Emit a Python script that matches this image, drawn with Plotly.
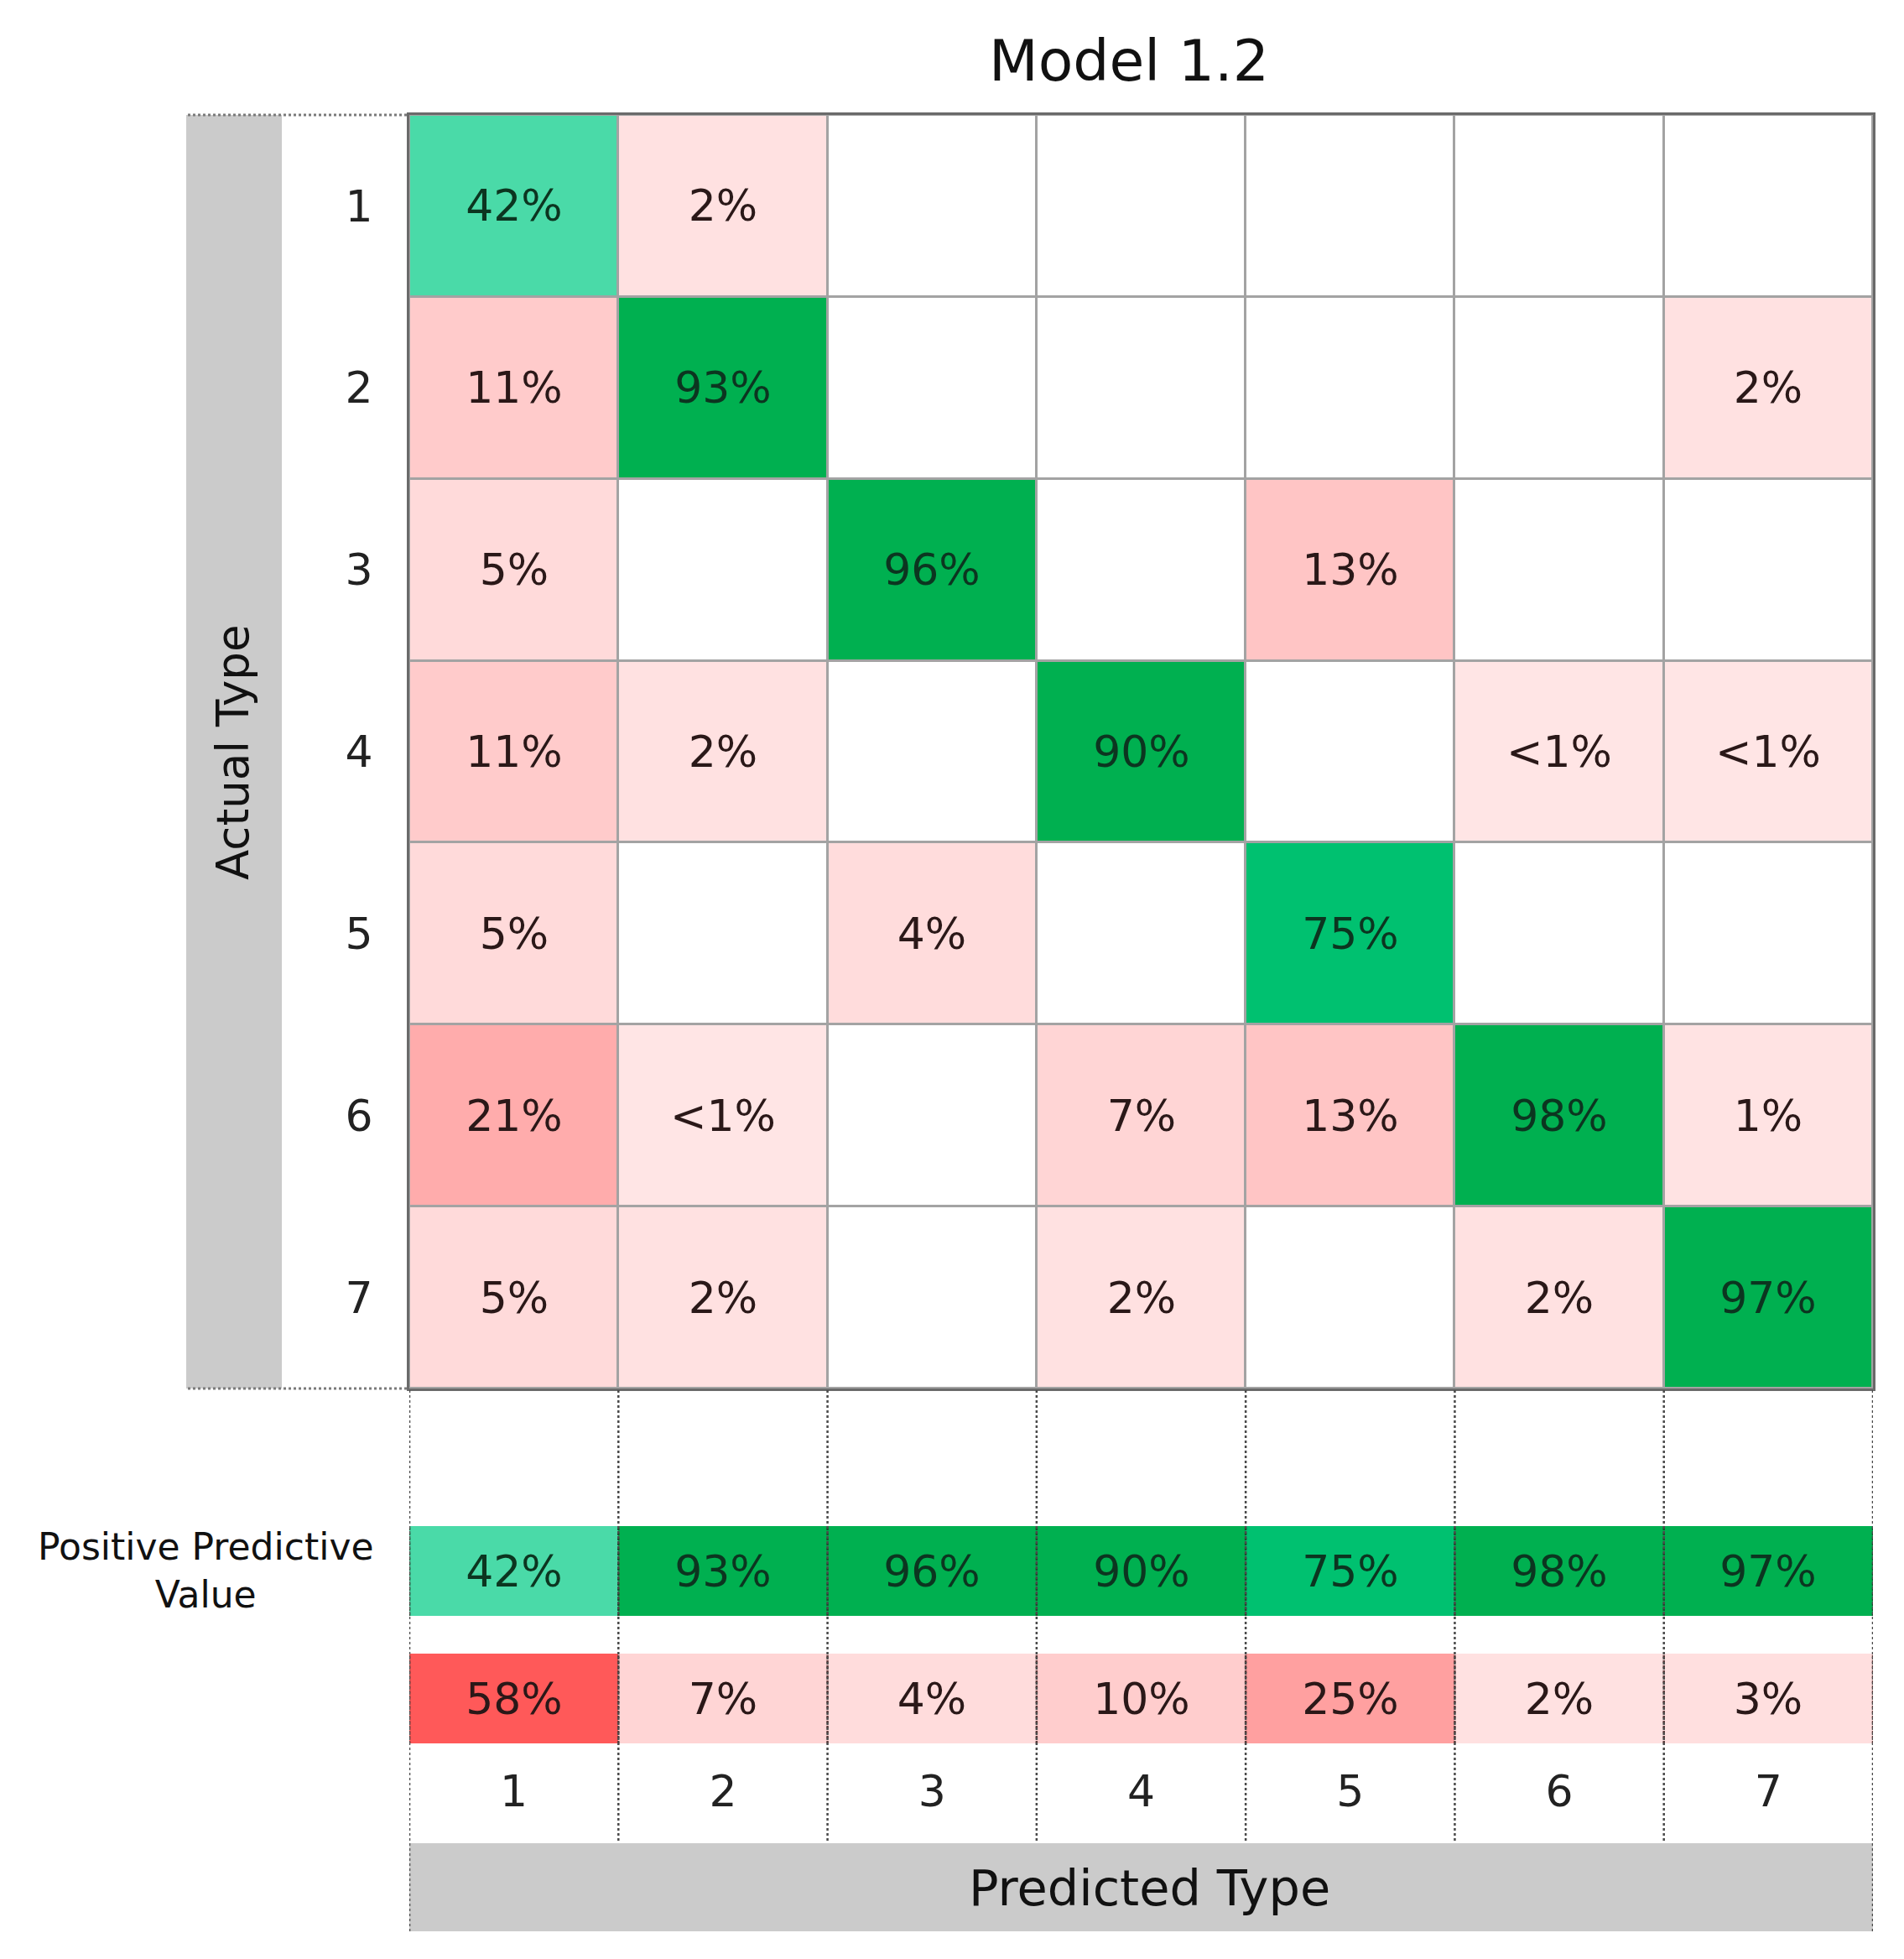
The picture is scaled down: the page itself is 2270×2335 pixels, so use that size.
import plotly.graph_objects as go

# ---------------- data ----------------
categories = ["1", "2", "3", "4", "5", "6", "7"]
title_text = "Model 1.2"
x_title = "Predicted Type"
y_title = "Actual Type"
ppv_label = "Positive Predictive<br>Value"

# rows = actual type 1..7, columns = predicted type 1..7 (percent, 0.5 means "<1%")
row1 = [42, 2, None, None, None, None, None]
row2 = [11, 93, None, None, None, None, 2]
row3 = [5, None, 96, None, 13, None, None]
row4 = [11, 2, None, 90, None, 0.5, 0.5]
row5 = [5, None, 4, None, 75, None, None]
row6 = [21, 0.5, None, 7, 13, 98, 1]
row7 = [5, 2, None, 2, None, 2, 97]
matrix = [row1, row2, row3, row4, row5, row6, row7]

ppv = [42, 93, 96, 90, 75, 98, 97]
fdr = [58, 7, 4, 10, 25, 2, 3]

# ---------------- helpers ----------------
W, H = 2270, 2335
OFF = 8  # page margin of the html body
def px(x):
    return (x - OFF) / W
def py(y):
    return 1 - (y - OFF) / H

def fmt(v):
    if v is None:
        return ""
    if v < 1:
        return "&lt;1%"
    return f"{v:g}%"

FONT = "DejaVu Sans"
GREEN = [[0, "#4edcab"], [0.58, "#00c170"], [0.8, "#00b050"], [1, "#00b050"]]
RED = [[0, "#ffe6e6"], [0.2, "#ffc8c8"], [0.4, "#ffa2a2"], [1, "#ff5555"]]
TXT_G = "#0c3520"
TXT_R = "#2a1818"

n = len(categories)
xs = list(range(1, n + 1))
ys = list(range(1, n + 1))

diag_z = [[matrix[i][j] if i == j else None for j in range(n)] for i in range(n)]
off_z = [[matrix[i][j] if i != j else None for j in range(n)] for i in range(n)]
diag_t = [[fmt(v) for v in r] for r in diag_z]
off_t = [[fmt(v) for v in r] for r in off_z]

fig = go.Figure()

# white base cells
fig.add_trace(go.Heatmap(
    x=xs, y=ys, z=[[0] * n for _ in range(n)],
    colorscale=[[0, "white"], [1, "white"]], showscale=False,
    xgap=3, ygap=3, hoverinfo="skip", xaxis="x", yaxis="y"))

# diagonal (correct) cells
fig.add_trace(go.Heatmap(
    x=xs, y=ys, z=diag_z, text=diag_t, texttemplate="%{text}",
    textfont=dict(family=FONT, size=52, color=TXT_G),
    colorscale=GREEN, zmin=40, zmax=100, showscale=False,
    xgap=3, ygap=3, hoverinfo="skip", xaxis="x", yaxis="y"))

# off-diagonal (error) cells
fig.add_trace(go.Heatmap(
    x=xs, y=ys, z=off_z, text=off_t, texttemplate="%{text}",
    textfont=dict(family=FONT, size=52, color=TXT_R),
    colorscale=RED, zmin=0, zmax=60, showscale=False,
    xgap=3, ygap=3, hoverinfo="skip", xaxis="x", yaxis="y"))

# positive predictive value row
fig.add_trace(go.Heatmap(
    x=xs, y=[1], z=[ppv], text=[[fmt(v) for v in ppv]], texttemplate="%{text}",
    textfont=dict(family=FONT, size=52, color=TXT_G),
    colorscale=GREEN, zmin=40, zmax=100, showscale=False,
    hoverinfo="skip", xaxis="x2", yaxis="y2"))

# false discovery row
fig.add_trace(go.Heatmap(
    x=xs, y=[1], z=[fdr], text=[[fmt(v) for v in fdr]], texttemplate="%{text}",
    textfont=dict(family=FONT, size=52, color=TXT_R),
    colorscale=RED, zmin=0, zmax=60, showscale=False,
    hoverinfo="skip", xaxis="x3", yaxis="y3"))

# dotted column separators drawn on top of the two summary rows
sep_x, sep_y = [], []
for k in range(n + 1):
    sep_x += [k + 0.5, k + 0.5, None]
    sep_y += [0.5, 1.5, None]
for xa, ya, col in (("x2", "y2", "#1f4a2e"), ("x3", "y3", "#5a3a3a")):
    fig.add_trace(go.Scatter(
        x=sep_x, y=sep_y, mode="lines", xaxis=xa, yaxis=ya,
        line=dict(color=col, width=2.5, dash="dot"),
        hoverinfo="skip", showlegend=False, cliponaxis=False))

X0, X1 = 488, 2233
MT, MB = 137, 1655

common_off = dict(showgrid=False, zeroline=False, ticks="", fixedrange=True)

fig.update_layout(
    width=W, height=H,
    margin=dict(l=0, r=0, t=0, b=0),
    paper_bgcolor="white",
    plot_bgcolor="#a3a3a3",
    showlegend=False,
    font=dict(family=FONT, color="#111111"),
    xaxis=dict(domain=[px(X0), px(X1)], range=[0.5, n + 0.5], anchor="y",
               showticklabels=False, showline=True, mirror=True,
               linecolor="#6a6a6a", linewidth=3, **common_off),
    yaxis=dict(domain=[py(MB), py(MT)], range=[n + 0.5, 0.5], anchor="x",
               tickvals=ys, ticktext=categories, ticklabelstandoff=30,
               tickfont=dict(family=FONT, size=52, color="#222222"),
               showline=True, mirror=True, linecolor="#6a6a6a", linewidth=3,
               **common_off),
    xaxis2=dict(domain=[px(X0), px(X1)], range=[0.5, n + 0.5], anchor="y2",
                showticklabels=False, **common_off),
    yaxis2=dict(domain=[py(1926), py(1819)], range=[0.5, 1.5], anchor="x2",
                showticklabels=False, **common_off),
    xaxis3=dict(domain=[px(X0), px(X1)], range=[0.5, n + 0.5], anchor="y3",
                tickvals=xs, ticktext=categories, ticklabelstandoff=22,
                tickfont=dict(family=FONT, size=52, color="#222222"),
                **common_off),
    yaxis3=dict(domain=[py(2078), py(1971)], range=[0.5, 1.5], anchor="x3",
                showticklabels=False, **common_off),
)

shapes = []
# grey band behind the actual-type title
shapes.append(dict(type="rect", xref="paper", yref="paper",
                   x0=px(222), x1=px(336), y0=py(MB), y1=py(MT),
                   fillcolor="#cbcbcb", line=dict(width=0), layer="below"))
# grey band behind the predicted-type title
shapes.append(dict(type="rect", xref="paper", yref="paper",
                   x0=px(X0), x1=px(X1), y0=py(2302), y1=py(2197),
                   fillcolor="#cbcbcb", line=dict(width=0), layer="below"))
# dotted guide lines at top and bottom of the matrix, left side
for yy in (MT, MB):
    shapes.append(dict(type="line", xref="paper", yref="paper",
                       x0=px(224), x1=px(X0), y0=py(yy), y1=py(yy),
                       line=dict(color="#7a7a7a", width=3, dash="dot")))
# dotted column separators below the matrix (outer ones run through the grey band)
dot = dict(color="#4a4a4a", width=2.5, dash="dot")
for k in range(n + 1):
    end = 2304 if k in (0, n) else 2197
    shapes.append(dict(type="line", xref="x", yref="paper",
                       x0=k + 0.5, x1=k + 0.5, y0=py(MB + 2), y1=py(end),
                       line=dot, layer="above"))
fig.update_layout(shapes=shapes)

ann = dict(xref="paper", yref="paper", showarrow=False,
           xanchor="center", yanchor="middle")
fig.add_annotation(text=title_text, x=px(1346), y=py(73),
                   font=dict(family=FONT, size=68, color="#111111"), **ann)
fig.add_annotation(text=y_title, x=px(277), y=py(897), textangle=-90,
                   font=dict(family=FONT, size=53, color="#111111"), **ann)
fig.add_annotation(text=x_title, x=px(1370), y=py(2250),
                   font=dict(family=FONT, size=59, color="#111111"), **ann)
fig.add_annotation(text=ppv_label, x=px(245), y=py(1872), align="center",
                   font=dict(family=FONT, size=44, color="#111111"), **ann)

fig.write_html("out.html")
